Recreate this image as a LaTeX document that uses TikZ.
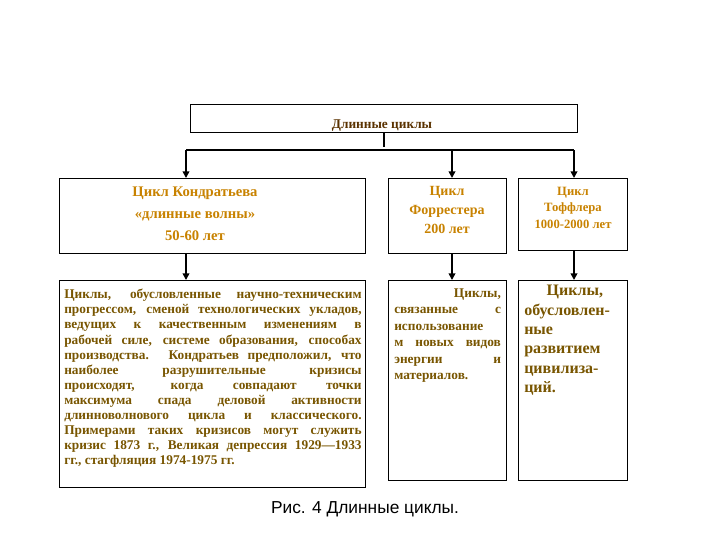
\documentclass[tikz,border=0pt]{standalone}
\usepackage{fontspec}
\setmainfont{Liberation Serif}
\newfontfamily\capfont{Liberation Sans}
\usetikzlibrary{arrows.meta}
\definecolor{org}{RGB}{200,130,0}
\definecolor{brn}{RGB}{120,85,0}
\definecolor{ttl}{RGB}{90,50,0}
\newcommand{\jl}[2]{\makebox[#1][s]{#2}\\}
\begin{document}
\begin{tikzpicture}[x=0.75pt,y=-0.75pt,
  box/.style={draw,line width=0.8pt,anchor=north west,inner sep=0pt},
  arr/.style={-{Triangle[length=5pt,width=5pt]},line width=1.2pt}]
\useasboundingbox (0,0) rectangle (720,540);
\node[box,minimum width=387*0.75pt,minimum height=28*0.75pt] (t) at (190,104) {};
\node[font=\bfseries\fontsize{10}{12}\selectfont,text=ttl] (tt) at (382,126) {Длинные циклы};
\node[box,minimum width=306*0.75pt,minimum height=75*0.75pt] (k) at (59,178) {};
\node[box,minimum width=118*0.75pt,minimum height=75*0.75pt] (f) at (388,178) {};
\node[box,minimum width=109*0.75pt,minimum height=72*0.75pt] (to) at (518,178) {};
\node[box,minimum width=306*0.75pt,minimum height=207*0.75pt] (k2) at (59,280) {};
\node[box,minimum width=118*0.75pt,minimum height=200*0.75pt] (f2) at (388,280) {};
\node[box,minimum width=109*0.75pt,minimum height=200*0.75pt] (to2) at (518,280) {};
\coordinate (h1) at (186,150); \coordinate (h2) at (452,150); \coordinate (h3) at (574,150);
\draw[line width=1pt] (t.south) -- ++(0,18*0.75) ;
\draw[line width=1pt] (h1) -- (h3);
\draw[arr] (h1) -- (h1|-k.north);
\draw[arr] (h2) -- (h2|-f.north);
\draw[arr] (h3) -- (h3|-to.north);
\draw[arr] (h1|-k.south) -- (h1|-k2.north);
\draw[arr] (h2|-f.south) -- (h2|-f2.north);
\draw[arr] (h3|-to.south) -- (h3|-to2.north);
\node[font=\bfseries\fontsize{11}{16.5}\selectfont,text=org,align=center,anchor=north] (kt) at (195,182) {Цикл Кондратьева\\«длинные волны»\\50-60 лет};
\node[font=\bfseries\fontsize{10.5}{14}\selectfont,text=org,align=center,anchor=north] (ft) at (447,182) {Цикл\\Форрестера\\200 лет};
\node[font=\bfseries\fontsize{9.5}{12.5}\selectfont,text=org,align=center,anchor=north] (tot) at (573,182) {Цикл\\Тоффлера\\1000-2000 лет};
\node[font=\bfseries\fontsize{10}{11.3}\selectfont,text=brn,align=left,anchor=north west,inner sep=0pt] (kb) at (64,289) {%
\jl{223pt}{Циклы, обусловленные научно-техническим}
\jl{223pt}{прогрессом, сменой технологических укладов,}
\jl{223pt}{ведущих к качественным изменениям в}
\jl{223pt}{рабочей силе, системе образования, способах}
\jl{223pt}{производства. Кондратьев предположил, что}
\jl{223pt}{наиболее разрушительные кризисы}
\jl{223pt}{происходят, когда совпадают точки}
\jl{223pt}{максимума спада деловой активности}
\jl{223pt}{длинноволнового цикла и классического.}
\jl{223pt}{Примерами таких кризисов могут служить}
\jl{223pt}{кризис 1873 г., Великая депрессия 1929—1933}
гг., стагфляция 1974-1975 гг.};
\node[font=\bfseries\fontsize{10}{12.4}\selectfont,text=brn,align=left,anchor=north west,inner sep=0pt] (fb) at (394,288) {%
\makebox[80pt][r]{Циклы,}\\
\jl{80pt}{связанные с}
использование\\
\jl{80pt}{м новых видов}
\jl{80pt}{энергии и}
материалов.};
\node[font=\bfseries\fontsize{12}{14.5}\selectfont,text=brn,align=left,anchor=north west,inner sep=0pt] (tob) at (524,285) {\hspace*{1.4em}Циклы,\\обусловлен-\\ные\\развитием\\цивилиза-\\ций.};
\node[font=\capfont\fontsize{13}{15}\selectfont] (c) at (365,509) {Рис. 4 Длинные циклы.};
\end{tikzpicture}
\end{document}
